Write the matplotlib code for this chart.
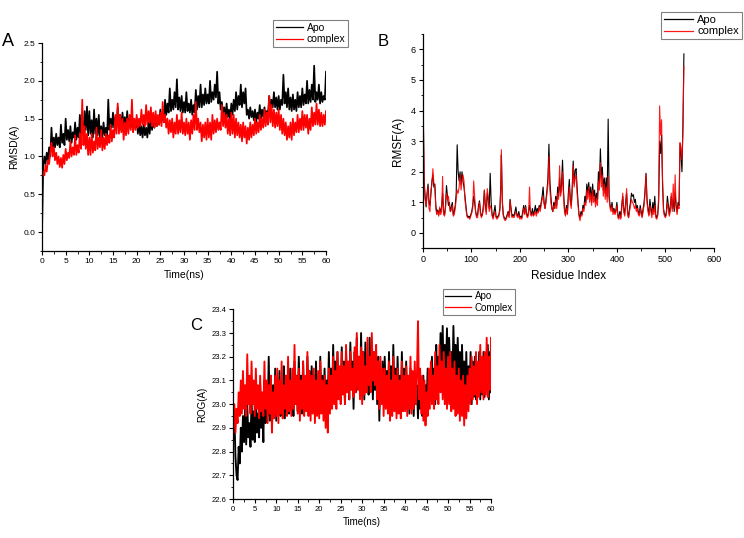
import numpy as np
import matplotlib
matplotlib.use("Agg")
import matplotlib.pyplot as plt
from matplotlib.ticker import MultipleLocator

plt.rcParams['font.family'] = ['Liberation Sans', 'DejaVu Sans']

# ---------------- Panel A: RMSD (sampled every 0.25 ns) ----------------
rmsd_apo = [
    0.00, 0.85, 1.00, 0.90, 1.05, 0.95, 1.12, 1.00, 1.38, 1.10, 1.25, 1.12, 1.30, 1.15, 1.25, 1.12, 1.42, 1.18, 1.30, 1.15,
    1.50, 1.22, 1.35, 1.20, 1.40, 1.18, 1.32, 1.25, 1.45, 1.22, 1.38, 1.25, 1.55, 1.28, 1.45, 1.30, 1.60, 1.35, 1.66, 1.28,
    1.60, 1.30, 1.48, 1.25, 1.62, 1.30, 1.50, 1.28, 1.55, 1.22, 1.40, 1.25, 1.45, 1.28, 1.38, 1.25, 1.75, 1.35, 1.50, 1.38,
    1.58, 1.38, 1.52, 1.40, 1.65, 1.42, 1.55, 1.35, 1.58, 1.40, 1.52, 1.35, 1.60, 1.40, 1.50, 1.38, 1.55, 1.35, 1.48, 1.38,
    1.50, 1.30, 1.45, 1.28, 1.40, 1.25, 1.42, 1.28, 1.38, 1.25, 1.45, 1.30, 1.50, 1.35, 1.48, 1.38, 1.55, 1.40, 1.52, 1.42,
    1.62, 1.45, 1.58, 1.48, 1.75, 1.55, 1.70, 1.58, 1.90, 1.60, 1.75, 1.62, 1.85, 1.65, 2.02, 1.62, 1.78, 1.60, 1.80, 1.58,
    1.72, 1.58, 1.85, 1.60, 1.70, 1.58, 1.75, 1.55, 1.68, 1.58, 1.88, 1.62, 1.80, 1.65, 1.95, 1.65, 1.82, 1.68, 1.90, 1.70,
    1.82, 1.70, 2.00, 1.72, 1.85, 1.75, 1.95, 1.78, 2.12, 1.70, 1.85, 1.62, 1.72, 1.55, 1.65, 1.50, 1.70, 1.52, 1.62, 1.48,
    1.70, 1.55, 1.75, 1.60, 1.85, 1.62, 1.80, 1.68, 1.95, 1.65, 1.85, 1.70, 1.90, 1.55, 1.62, 1.50, 1.65, 1.52, 1.60, 1.48,
    1.62, 1.45, 1.58, 1.50, 1.68, 1.50, 1.62, 1.52, 1.65, 1.52, 1.60, 1.55, 1.80, 1.62, 1.75, 1.65, 1.85, 1.65, 1.78, 1.62,
    1.80, 1.62, 1.75, 1.68, 2.08, 1.70, 1.85, 1.65, 1.90, 1.62, 1.78, 1.60, 1.82, 1.62, 1.75, 1.60, 1.85, 1.65, 1.80, 1.65,
    1.90, 1.68, 1.82, 1.70, 2.00, 1.70, 1.88, 1.72, 1.95, 1.75, 2.20, 1.72, 1.85, 1.75, 1.95, 1.70, 1.85, 1.72, 1.80, 1.75,
    2.12]
rmsd_complex = [
    0.70, 0.80, 0.75, 0.88, 0.80, 0.95, 0.90, 1.05, 1.18, 1.00, 1.12, 0.95, 1.05, 0.90, 1.00, 0.86, 0.98, 0.85, 1.02, 0.90,
    1.10, 0.95, 1.05, 0.98, 1.20, 1.00, 1.12, 1.02, 1.28, 1.02, 1.15, 1.05, 1.30, 1.10, 1.75, 1.15, 1.40, 1.10, 1.30, 1.02,
    1.25, 1.02, 1.30, 1.05, 1.20, 1.08, 1.38, 1.10, 1.25, 1.12, 1.35, 1.08, 1.25, 1.10, 1.30, 1.15, 1.28, 1.18, 1.42, 1.20,
    1.35, 1.25, 1.55, 1.30, 1.70, 1.30, 1.55, 1.32, 1.50, 1.22, 1.45, 1.28, 1.50, 1.30, 1.55, 1.35, 1.75, 1.32, 1.50, 1.35,
    1.55, 1.38, 1.50, 1.40, 1.62, 1.42, 1.55, 1.40, 1.68, 1.42, 1.60, 1.45, 1.65, 1.40, 1.58, 1.38, 1.60, 1.40, 1.55, 1.42,
    1.58, 1.40, 1.72, 1.45, 1.55, 1.38, 1.50, 1.30, 1.48, 1.32, 1.50, 1.25, 1.45, 1.30, 1.55, 1.30, 1.48, 1.32, 1.58, 1.30,
    1.45, 1.28, 1.50, 1.30, 1.45, 1.22, 1.48, 1.30, 1.55, 1.35, 1.72, 1.35, 1.50, 1.32, 1.45, 1.20, 1.42, 1.25, 1.45, 1.22,
    1.50, 1.25, 1.45, 1.22, 1.55, 1.30, 1.48, 1.32, 1.50, 1.35, 1.45, 1.35, 1.68, 1.40, 1.58, 1.38, 1.55, 1.30, 1.50, 1.28,
    1.58, 1.30, 1.55, 1.25, 1.50, 1.28, 1.45, 1.25, 1.42, 1.20, 1.45, 1.25, 1.40, 1.17, 1.38, 1.22, 1.45, 1.25, 1.42, 1.28,
    1.50, 1.30, 1.45, 1.32, 1.55, 1.35, 1.50, 1.38, 1.62, 1.40, 1.58, 1.42, 1.80, 1.45, 1.68, 1.40, 1.62, 1.38, 1.58, 1.40,
    1.62, 1.35, 1.55, 1.30, 1.50, 1.28, 1.45, 1.22, 1.40, 1.25, 1.45, 1.22, 1.50, 1.28, 1.45, 1.32, 1.55, 1.32, 1.50, 1.35,
    1.60, 1.35, 1.55, 1.38, 1.55, 1.30, 1.50, 1.35, 1.65, 1.40, 1.58, 1.42, 1.70, 1.42, 1.62, 1.40, 1.58, 1.40, 1.55, 1.42,
    1.60]

# ---------------- Panel B: RMSF per residue ----------------
residues = [1, 3, 5, 7, 9, 11, 13, 15, 17, 19, 21, 23, 25, 27, 29, 31, 33, 35, 37, 39,
            41, 43, 45, 47, 49, 51, 53, 55, 57, 59, 61, 63, 65, 67, 69, 71, 73, 75, 77, 79,
            81, 83, 85, 87, 89, 91, 93, 95, 97, 99, 101, 103, 105, 107, 109, 111, 113, 115, 117, 119,
            121, 123, 125, 127, 129, 131, 133, 135, 137, 139, 141, 143, 145, 147, 149, 151, 153, 155, 157, 159,
            161, 162, 164, 166, 168, 170, 172, 174, 176, 178, 180, 182, 184, 186, 188, 190, 192, 194, 196, 198,
            200, 202, 204, 206, 208, 210, 212, 214, 216, 218, 220, 222, 224, 226, 228, 230, 232, 234, 236, 238,
            240, 242, 244, 246, 248, 250, 252, 254, 256, 258, 260, 262, 264, 266, 268, 270, 272, 274, 276, 278,
            280, 282, 284, 286, 288, 290, 292, 294, 296, 298, 300, 302, 304, 306, 308, 310, 312, 314, 316, 318,
            320, 322, 324, 326, 328, 330, 332, 334, 336, 338, 340, 342, 344, 346, 348, 350, 352, 354, 356, 358,
            360, 362, 364, 366, 368, 370, 372, 374, 376, 378, 380, 382, 384, 386, 388, 390, 392, 394, 396, 398,
            400, 402, 404, 406, 408, 410, 412, 414, 416, 418, 420, 422, 424, 426, 428, 430, 432, 434, 436, 438,
            440, 442, 444, 446, 448, 450, 452, 454, 456, 458, 460, 462, 464, 466, 468, 470, 472, 474, 476, 478,
            480, 482, 484, 486, 488, 490, 492, 494, 496, 498, 500, 502, 504, 506, 508, 510, 512, 514, 516, 518,
            520, 522, 524, 526, 528, 530, 532, 534, 536, 538]
rmsf_apo = [4.0, 1.7, 1.2, 0.85, 1.3, 1.6, 1.0, 0.9, 1.3, 1.7, 1.9, 1.5, 1.6, 0.9, 0.65, 0.75, 0.6, 0.8, 0.7, 0.85,
            1.3, 0.7, 0.6, 0.9, 1.55, 1.2, 0.9, 1.0, 0.7, 0.85, 1.0, 0.6, 0.7, 0.9, 1.3, 2.88, 2.0, 1.7, 2.0, 1.6,
            2.0, 1.7, 1.5, 1.2, 0.9, 0.6, 0.5, 0.55, 0.5, 0.6, 0.7, 0.9, 1.2, 1.0, 0.7, 0.55, 0.6, 0.9, 1.05, 0.7,
            0.55, 0.6, 0.9, 1.4, 0.9, 0.7, 1.3, 1.1, 0.8, 1.95, 1.0, 0.6, 0.5, 0.7, 0.9, 0.55, 0.5, 0.55, 0.6, 0.8,
            1.6, 2.55, 1.0, 0.6, 0.5, 0.45, 0.5, 0.6, 0.7, 0.55, 1.1, 0.8, 0.55, 0.6, 0.55, 0.7, 0.85, 0.6, 0.55, 0.7,
            0.5, 0.55, 0.5, 0.7, 0.9, 0.65, 0.9, 0.6, 0.55, 0.7, 0.9, 0.7, 0.6, 0.8, 0.6, 0.7, 0.9, 0.65, 0.8, 0.7,
            0.9, 0.8, 1.0, 1.2, 1.5, 1.0, 0.8, 1.1, 1.4, 1.8, 2.9, 1.7, 1.2, 0.8, 0.7, 1.0, 0.8, 1.2, 0.9, 1.5,
            1.2, 1.8, 1.3, 1.6, 2.38, 1.4, 0.8, 0.6, 0.9, 0.65, 1.3, 1.75, 1.1, 0.9, 1.5, 2.35, 1.6, 2.05, 2.1, 1.5,
            1.0, 0.6, 0.5, 0.7, 0.6, 0.9, 0.8, 1.2, 1.0, 1.6, 1.3, 1.65, 1.2, 1.5, 1.0, 1.6, 1.2, 1.4, 1.0, 1.3,
            1.1, 2.0, 1.6, 2.75, 1.8, 2.15, 1.4, 1.8, 1.3, 1.8, 1.2, 3.72, 1.2, 0.9, 0.8, 1.0, 0.7, 0.8, 0.65, 0.75,
            1.0, 0.6, 0.5, 0.7, 0.5, 0.9, 1.2, 0.8, 0.6, 1.0, 1.3, 0.7, 0.5, 0.8, 1.0, 1.3, 1.2, 1.25, 1.0, 1.1,
            0.8, 0.9, 0.7, 0.6, 0.9, 0.7, 0.55, 0.8, 1.0, 1.4, 1.95, 1.1, 0.8, 0.6, 1.1, 0.8, 0.6, 1.0, 0.7, 1.2,
            0.6, 0.5, 0.6, 1.0, 3.0, 2.6, 3.2, 1.6, 0.8, 0.6, 0.55, 0.7, 1.2, 0.9, 0.6, 0.9, 1.2, 0.8, 1.1, 0.7,
            1.3, 0.9, 0.7, 1.0, 0.9, 2.9, 2.6, 2.0, 3.5, 5.85]
rmsf_complex = [4.3, 1.6, 1.1, 0.9, 1.2, 1.5, 0.8, 0.7, 1.4, 1.6, 2.1, 1.6, 1.5, 0.8, 0.6, 0.7, 0.55, 0.85, 0.6, 0.7,
                1.85, 0.6, 0.55, 0.8, 1.3, 1.1, 1.2, 0.9, 0.7, 0.75, 0.9, 0.55, 0.6, 0.8, 1.1, 1.4, 1.3, 1.5, 1.9, 1.4,
                1.7, 1.9, 1.7, 1.1, 0.8, 0.55, 0.5, 0.5, 0.45, 0.55, 0.65, 0.8, 1.7, 1.2, 0.7, 0.5, 0.5, 0.8, 1.0, 0.6,
                0.5, 0.6, 0.8, 1.4, 0.8, 0.6, 1.45, 1.2, 0.7, 0.9, 0.8, 0.55, 0.45, 0.6, 0.7, 0.5, 0.45, 0.5, 0.55, 0.75,
                1.5, 2.72, 1.1, 0.55, 0.45, 0.4, 0.45, 0.55, 0.65, 0.5, 1.05, 0.7, 0.5, 0.55, 0.5, 0.6, 0.7, 0.55, 0.5, 0.6,
                0.45, 0.5, 0.45, 0.6, 0.8, 0.6, 0.85, 0.55, 0.5, 0.6, 1.5, 0.6, 0.55, 0.65, 0.55, 0.6, 0.7, 0.55, 0.7, 0.65,
                0.85, 0.7, 0.9, 1.1, 1.2, 0.95, 0.8, 1.0, 1.3, 1.6, 2.5, 1.4, 1.0, 0.8, 0.7, 0.9, 0.8, 1.1, 0.8, 1.3,
                1.1, 2.2, 1.2, 1.4, 2.0, 1.2, 0.7, 0.55, 0.8, 0.6, 1.1, 1.5, 1.0, 0.8, 1.4, 2.2, 1.5, 1.8, 1.9, 1.3,
                0.9, 0.55, 0.4, 0.6, 0.55, 0.8, 0.7, 1.0, 0.9, 1.4, 1.1, 1.5, 1.0, 1.3, 0.9, 1.4, 1.0, 1.2, 0.85, 1.1,
                0.9, 1.7, 1.4, 2.3, 1.5, 1.9, 1.2, 1.6, 1.1, 1.5, 1.0, 1.85, 1.1, 0.8, 0.7, 0.9, 0.6, 0.75, 0.6, 0.7,
                0.9, 0.5, 0.45, 0.6, 0.45, 0.8, 1.3, 0.7, 0.55, 0.9, 1.45, 0.6, 0.5, 0.7, 0.9, 1.1, 1.0, 0.95, 0.8, 0.9,
                0.7, 0.8, 0.6, 0.55, 0.8, 0.6, 0.5, 0.7, 0.9, 1.3, 1.9, 1.0, 0.7, 0.55, 0.9, 0.7, 0.5, 0.8, 0.6, 0.9,
                0.5, 0.45, 0.55, 1.2, 4.15, 3.2, 3.7, 1.8, 0.7, 0.55, 0.5, 0.6, 1.0, 0.8, 0.55, 0.7, 1.3, 0.7, 1.6, 0.8,
                1.9, 0.8, 0.6, 0.9, 0.8, 2.95, 2.8, 2.4, 3.3, 5.45]

# ---------------- Panel C: radius of gyration (sampled every 0.25 ns) ----------------
rog_apo = [
    22.85, 22.95, 22.78, 22.70, 22.68, 22.82, 22.75, 22.90, 22.80, 22.95, 22.84, 22.98, 22.83, 23.00, 22.86, 22.92, 22.82, 23.02, 22.85, 22.97,
    22.84, 23.05, 22.88, 22.96, 22.86, 23.08, 22.90, 23.00, 22.84, 23.10, 22.92, 23.05, 22.95, 23.20, 22.93, 23.12, 22.92, 23.08, 22.95, 23.15,
    22.93, 23.10, 22.98, 23.14, 22.95, 23.08, 23.00, 23.16, 22.94, 23.12, 22.98, 23.05, 22.96, 23.15, 23.00, 23.10, 22.95, 23.18, 23.00, 23.12,
    22.97, 23.20, 23.02, 23.12, 22.96, 23.18, 23.00, 23.10, 22.98, 23.20, 23.03, 23.14, 22.96, 23.16, 23.00, 23.12, 22.97, 23.18, 23.02, 23.10,
    22.96, 23.20, 23.00, 23.12, 22.98, 23.15, 22.95, 23.10, 23.00, 23.22, 23.02, 23.15, 23.00, 23.25, 23.05, 23.18, 23.02, 23.22, 23.06, 23.15,
    23.02, 23.24, 23.06, 23.18, 23.00, 23.22, 23.05, 23.15, 23.02, 23.26, 23.08, 23.18, 22.98, 23.22, 23.05, 23.28, 23.08, 23.20, 23.04, 23.30,
    23.06, 23.22, 23.02, 23.26, 23.08, 23.18, 23.04, 23.28, 23.08, 23.20, 23.02, 23.22, 23.06, 23.16, 23.00, 23.20, 22.93, 23.14, 23.02, 23.18,
    23.00, 23.20, 23.04, 23.14, 22.98, 23.22, 23.02, 23.16, 23.00, 23.25, 23.05, 23.15, 22.98, 23.20, 23.02, 23.12, 22.97, 23.22, 23.00, 23.15,
    22.98, 23.18, 23.02, 23.12, 22.96, 23.15, 23.00, 23.10, 22.95, 23.12, 23.00, 23.08, 22.94, 23.10, 22.98, 23.05, 22.95, 23.12, 22.94, 23.08,
    22.98, 23.15, 23.00, 23.12, 23.02, 23.20, 23.04, 23.15, 23.00, 23.25, 23.08, 23.20, 23.10, 23.30, 23.12, 23.33, 23.08, 23.25, 23.12, 23.32,
    23.10, 23.28, 23.14, 23.22, 23.08, 23.33, 23.12, 23.25, 23.06, 23.28, 23.10, 23.22, 23.04, 23.25, 23.08, 23.18, 23.02, 23.22, 23.00, 23.16,
    23.04, 23.22, 23.00, 23.18, 23.03, 23.20, 23.02, 23.16, 23.05, 23.22, 23.02, 23.18, 23.04, 23.22, 23.03, 23.20, 23.06, 23.25, 23.02, 23.22,
    23.05]
rog_complex = [
    22.90, 23.00, 22.88, 22.98, 22.92, 23.05, 22.95, 23.10, 22.96, 23.14, 22.98, 23.08, 22.95, 23.21, 23.00, 23.12, 22.96, 23.18, 23.00, 23.10,
    22.95, 23.15, 22.98, 23.08, 22.94, 23.12, 22.97, 23.05, 22.95, 23.18, 22.98, 23.10, 22.92, 23.08, 22.96, 23.12, 22.88, 23.05, 22.94, 23.12,
    22.95, 23.15, 22.92, 23.10, 22.96, 23.18, 22.94, 23.08, 22.98, 23.12, 22.95, 23.20, 22.97, 23.10, 22.95, 23.15, 22.98, 23.25, 23.00, 23.12,
    22.96, 23.15, 22.93, 23.10, 22.98, 23.18, 22.95, 23.12, 22.97, 23.22, 22.95, 23.14, 22.93, 23.12, 22.96, 23.15, 22.92, 23.10, 22.95, 23.14,
    22.94, 23.18, 22.96, 23.10, 22.93, 23.12, 22.90, 23.08, 22.88, 23.15, 22.96, 23.12, 22.98, 23.20, 23.00, 23.14, 22.98, 23.22, 23.02, 23.16,
    23.00, 23.22, 23.04, 23.16, 23.00, 23.25, 23.05, 23.18, 23.02, 23.22, 23.06, 23.15, 23.03, 23.24, 23.05, 23.30, 23.06, 23.20, 23.02, 23.24,
    23.00, 23.22, 23.04, 23.16, 23.05, 23.28, 23.08, 23.20, 23.05, 23.30, 23.10, 23.22, 23.08, 23.25, 23.02, 23.18, 22.98, 23.20, 23.00, 23.15,
    22.95, 23.15, 22.98, 23.12, 22.96, 23.18, 22.93, 23.10, 22.95, 23.20, 22.97, 23.12, 22.94, 23.15, 22.96, 23.10, 22.94, 23.18, 22.97, 23.12,
    22.97, 23.16, 22.95, 23.12, 22.98, 23.20, 22.96, 23.14, 22.98, 23.18, 23.00, 23.12, 23.35, 23.02, 23.15, 22.96, 23.12, 22.93, 23.10, 22.91,
    23.05, 22.95, 23.15, 22.98, 23.18, 23.00, 23.12, 22.98, 23.22, 23.02, 23.16, 23.00, 23.25, 23.05, 23.18, 23.02, 23.22, 23.00, 23.15, 22.98,
    23.20, 23.00, 23.22, 22.97, 23.15, 22.98, 23.18, 22.95, 23.12, 22.96, 23.15, 22.93, 23.10, 22.95, 23.12, 22.91, 23.08, 22.94, 23.12, 22.97,
    23.15, 23.00, 23.20, 23.02, 23.16, 23.04, 23.22, 23.00, 23.18, 23.03, 23.25, 23.05, 23.20, 23.02, 23.22, 23.04, 23.28, 23.03, 23.20, 23.06,
    23.28]

t_rmsd_apo = np.linspace(0, 60, len(rmsd_apo))
t_rmsd_cpx = np.linspace(0, 60, len(rmsd_complex))
t_rog_apo = np.linspace(0, 60, len(rog_apo))
t_rog_cpx = np.linspace(0, 60, len(rog_complex))

W, H = 744, 538
fig = plt.figure(figsize=(W / 100, H / 100), dpi=100)
fig.patch.set_facecolor('white')


def ax_at(l, t, r, b):
    return fig.add_axes([l / W, 1 - b / H, (r - l) / W, (b - t) / H])


def style(ax, fs):
    for s in ('top', 'right'):
        ax.spines[s].set_visible(False)
    for s in ('left', 'bottom'):
        ax.spines[s].set_linewidth(0.9)
    ax.tick_params(which='major', direction='out', length=3, width=0.8, labelsize=fs, pad=2)
    ax.tick_params(which='minor', direction='out', length=1.8, width=0.6)


def legend(ax, labels, x0, y0, fs):
    leg = ax.legend(labels, loc='upper left', bbox_to_anchor=(x0 / W, 1 - y0 / H),
                    bbox_transform=fig.transFigure, fontsize=fs, frameon=True,
                    fancybox=False, edgecolor='#808080', framealpha=1,
                    handlelength=2.6, handletextpad=0.4, borderpad=0.25,
                    labelspacing=0.15, borderaxespad=0)
    leg.get_frame().set_linewidth(0.8)
    for h in leg.get_lines():
        h.set_linewidth(0.9)
    return leg


# Panel A
axA = ax_at(42, 43, 326, 251)
axA.plot(t_rmsd_apo, rmsd_apo, color='black', lw=1.25)
axA.plot(t_rmsd_cpx, rmsd_complex, color='red', lw=1.25)
axA.set_xlim(0, 60)
axA.set_ylim(-0.25, 2.5)
axA.xaxis.set_major_locator(MultipleLocator(5))
axA.xaxis.set_minor_locator(MultipleLocator(2.5))
axA.yaxis.set_minor_locator(MultipleLocator(0.25))
axA.set_yticks([0.0, 0.5, 1.0, 1.5, 2.0, 2.5])
axA.set_yticklabels(['0.0', '0.5', '1.0', '1.5', '2.0', '2.5'])
style(axA, 6)
axA.set_xlabel('Time(ns)', fontsize=7.5, labelpad=4)
axA.set_ylabel('RMSD(A)', fontsize=7.5, labelpad=3)
legend(axA, ['Apo', 'complex'], 273, 20, 7.5)
fig.text(2 / W, 1 - 41 / H, 'A', fontsize=13, va='center', ha='left')

# Panel B
axB = ax_at(422.7, 34, 714, 248.3)
axB.plot(residues, rmsf_apo, color='black', lw=0.8)
axB.plot(residues, rmsf_complex, color='red', lw=0.8, alpha=0.9)
axB.set_xlim(0, 600)
axB.set_ylim(-0.5, 6.5)
axB.xaxis.set_major_locator(MultipleLocator(100))
axB.xaxis.set_minor_locator(MultipleLocator(50))
axB.yaxis.set_minor_locator(MultipleLocator(0.5))
axB.set_yticks([0, 1, 2, 3, 4, 5, 6])
style(axB, 6.5)
axB.set_xlabel('Residue Index', fontsize=8.5, labelpad=4)
axB.set_ylabel('RMSF(A)', fontsize=8.5, labelpad=5)
legend(axB, ['Apo', 'complex'], 661, 12, 8)
fig.text(378 / W, 1 - 42 / H, 'B', fontsize=12, va='center', ha='left')

# Panel C
axC = ax_at(233.3, 309.3, 491, 499)
axC.plot(t_rog_apo, rog_apo, color='black', lw=1.35)
axC.plot(t_rog_cpx, rog_complex, color='red', lw=1.35)
axC.set_xlim(0, 60)
axC.set_ylim(22.6, 23.4)
axC.xaxis.set_major_locator(MultipleLocator(5))
axC.xaxis.set_minor_locator(MultipleLocator(2.5))
axC.set_yticks([22.6, 22.7, 22.8, 22.9, 23.0, 23.1, 23.2, 23.3, 23.4])
axC.set_yticklabels(['22.6', '22.7', '22.8', '22.9', '23.0', '23.1', '23.2', '23.3', '23.4'])
axC.yaxis.set_minor_locator(MultipleLocator(0.05))
style(axC, 5.5)
axC.set_xlabel('Time(ns)', fontsize=7, labelpad=3)
axC.set_ylabel('ROG(A)', fontsize=7, labelpad=3)
legend(axC, ['Apo', 'Complex'], 443, 289, 7)
fig.text(190 / W, 1 - 325 / H, 'C', fontsize=12, va='center', ha='left')

fig.savefig('out.png', dpi=100, facecolor='white')
